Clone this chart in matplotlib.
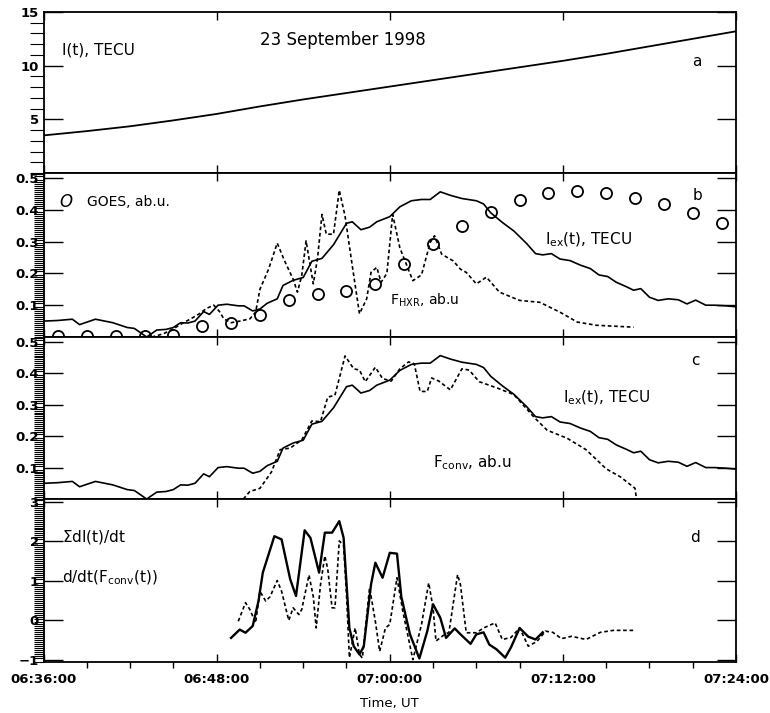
import matplotlib
matplotlib.use("Agg")
import matplotlib.pyplot as plt
from matplotlib.ticker import MultipleLocator, FixedLocator, FuncFormatter, AutoMinorLocator

# time axis: minutes after 06:36:00 UT
T0 = 6 * 60 + 36

# ---- panel a : I(t), TECU
t_tec = [0, 3, 6, 9, 12, 15, 18, 21, 24, 27, 30, 33, 36, 39, 42, 45, 48]
tec = [3.5, 3.9, 4.35, 4.9, 5.5, 6.2, 6.85, 7.45, 8.05, 8.65, 9.25, 9.85, 10.45, 11.1, 11.8, 12.5, 13.2]

# ---- I_ex(t), TECU (panels b and c)
t_iex = [0.0, 1.0, 2.0, 2.5, 3.6, 4.8, 5.8, 6.3, 7.15, 7.85, 8.5, 9.0, 9.5, 10.0, 10.5,
         11.1, 11.5, 12.1, 12.7, 13.5, 13.9, 14.5, 15.0, 15.5, 16.2, 16.6, 17.3, 18.0,
         18.6, 19.3, 20.1, 21.0, 21.4, 22.0, 22.6, 23.1, 24.0, 24.7, 25.5, 26.2, 26.8,
         27.5, 28.2, 29.0, 30.0, 30.5, 31.0, 31.8, 32.6, 33.5, 34.1, 34.6, 35.2, 35.8,
         36.5, 37.2, 37.9, 38.5, 39.1, 39.7, 40.4, 40.9, 41.4, 42.0, 42.6, 43.3, 44.0,
         44.6, 45.2, 45.9, 46.5, 47.3, 48.0]
iex = [0.05, 0.052, 0.056, 0.039, 0.056, 0.045, 0.03, 0.027, 0.0, 0.022, 0.024, 0.03, 0.045,
       0.044, 0.05, 0.08, 0.071, 0.1, 0.103, 0.098, 0.098, 0.082, 0.088, 0.106, 0.12, 0.162,
       0.178, 0.187, 0.238, 0.247, 0.29, 0.357, 0.362, 0.337, 0.345, 0.362, 0.378, 0.409,
       0.428, 0.432, 0.432, 0.456, 0.445, 0.435, 0.428, 0.418, 0.39, 0.36, 0.333, 0.293,
       0.262, 0.258, 0.262, 0.245, 0.24, 0.226, 0.215, 0.195, 0.19, 0.172, 0.158, 0.147,
       0.152, 0.125, 0.115, 0.12, 0.117, 0.104, 0.116, 0.1, 0.1, 0.098, 0.095]

# ---- panel b : F_HXR, ab.u (dotted) and GOES (circles)
t_hxr = [7.5, 8.3, 9.0, 9.7, 10.2, 10.8, 11.3, 11.8, 12.2, 12.5, 13.0, 13.6, 14.3, 14.7,
         15.0, 15.6, 16.2, 16.7, 17.3, 17.6, 17.9, 18.2, 18.5, 18.7, 19.0, 19.3, 19.6,
         20.1, 20.5, 20.9, 21.4, 21.9, 22.4, 22.7, 23.1, 23.4, 23.8, 24.2, 24.7, 25.1,
         25.6, 26.2, 26.8, 27.1, 27.6, 28.4, 28.9, 29.3, 30.0, 30.7, 31.6, 33.0, 34.4,
         35.8, 37.0, 38.3, 40.9]
hxr = [0.0, 0.01, 0.026, 0.045, 0.057, 0.073, 0.09, 0.1, 0.08, 0.057, 0.045, 0.05, 0.057,
       0.078, 0.15, 0.213, 0.295, 0.24, 0.182, 0.141, 0.193, 0.302, 0.22, 0.167, 0.25,
       0.385, 0.323, 0.323, 0.461, 0.38, 0.224, 0.073, 0.12, 0.203, 0.219, 0.172, 0.2,
       0.385, 0.28, 0.234, 0.177, 0.195, 0.297, 0.318, 0.26, 0.239, 0.213, 0.203, 0.167,
       0.188, 0.141, 0.115, 0.109, 0.078, 0.047, 0.037, 0.031]

t_goes = [1, 3, 5, 7, 9, 11, 13, 15, 17, 19, 21, 23, 25, 27, 29, 31, 33, 35, 37, 39, 41, 43, 45, 47]
goes = [0.004, 0.002, 0.002, 0.002, 0.007, 0.034, 0.045, 0.07, 0.115, 0.134, 0.146, 0.167,
        0.229, 0.292, 0.349, 0.393, 0.43, 0.453, 0.458, 0.453, 0.437, 0.417, 0.389, 0.359]

# ---- panel c : F_conv, ab.u (dotted)
t_conv = [13.85, 14.3, 15.0, 15.8, 16.4, 17.1, 17.9, 18.6, 19.2, 19.7, 20.2, 20.9, 21.5,
          21.9, 22.3, 23.0, 23.5, 24.1, 24.7, 25.3, 25.7, 26.1, 26.6, 26.9, 27.4, 28.2,
          29.0, 29.5, 30.2, 31.5, 32.6, 33.5, 34.0, 34.9, 36.3, 37.6, 39.0, 40.0, 41.0, 41.1]
conv = [0.0, 0.024, 0.034, 0.086, 0.157, 0.162, 0.188, 0.248, 0.246, 0.324, 0.33, 0.455,
        0.414, 0.41, 0.373, 0.419, 0.383, 0.375, 0.414, 0.436, 0.43, 0.342, 0.342, 0.385,
        0.375, 0.347, 0.414, 0.41, 0.373, 0.352, 0.332, 0.286, 0.26, 0.219, 0.193, 0.157,
        0.096, 0.07, 0.034, 0.0]

# ---- panel d : sum dI(t)/dt (solid) and d/dt(F_conv(t)) (dotted)
t_dI = [13.0, 13.6, 14.0, 14.5, 14.9, 15.2, 15.6, 16.0, 16.5, 17.1, 17.5, 18.1, 18.5, 19.1,
        19.5, 20.0, 20.5, 20.8, 21.2, 21.5, 21.9, 22.2, 22.7, 23.0, 23.5, 24.0, 24.5, 24.8,
        25.4, 26.05, 26.6, 27.0, 27.5, 27.9, 28.5, 28.9, 29.6, 30.0, 30.5, 30.9, 31.4, 32.0,
        32.4, 33.0, 33.6, 34.1, 34.6]
dI = [-0.44, -0.23, -0.31, -0.14, 0.49, 1.21, 1.67, 2.13, 2.05, 1.04, 0.62, 2.28, 2.09, 1.21,
      2.22, 2.22, 2.51, 2.09, -0.19, -0.65, -0.86, -0.65, 0.91, 1.46, 1.08, 1.71, 1.69, 0.6,
      -0.35, -0.96, -0.27, 0.41, 0.07, -0.44, -0.2, -0.35, -0.59, -0.35, -0.3, -0.61, -0.73,
      -0.94, -0.68, -0.19, -0.41, -0.48, -0.3]

t_dconv = [13.5, 14.0, 14.3, 14.7, 15.0, 15.4, 15.7, 16.2, 16.5, 17.0, 17.3, 17.7, 17.9, 18.4,
           18.7, 18.9, 19.2, 19.5, 19.7, 20.0, 20.2, 20.5, 20.8, 21.0, 21.2, 21.6, 21.9, 22.1,
           22.6, 23.0, 23.3, 23.7, 24.0, 24.5, 24.9, 25.6, 26.2, 26.7, 27.0, 27.2, 27.7, 28.1,
           28.7, 28.9, 29.3, 30.0, 30.5, 31.3, 31.8, 32.4, 33.0, 33.6, 34.2, 34.8, 35.3, 35.9,
           36.6, 37.6, 38.6, 39.5, 40.9]
dconv = [-0.02, 0.45, 0.28, -0.06, 0.74, 0.49, 0.6, 1.01, 0.74, 0.0, 0.32, 0.15, 0.28, 1.15,
         0.6, -0.19, 0.91, 1.63, 1.3, 0.32, 0.32, 2.01, 1.9, 0.66, -0.94, -0.19, -0.86, -0.95,
         0.83, -0.02, -0.78, -0.19, -0.1, 1.08, 0.24, -0.99, -0.1, 0.95, 0.32, -0.52, -0.38,
         -0.3, 1.16, 0.9, -0.31, -0.31, -0.19, -0.06, -0.48, -0.43, -0.19, -0.65, -0.53, -0.27,
         -0.3, -0.46, -0.4, -0.48, -0.3, -0.25, -0.25]

time_ticks = [0, 12, 24, 36, 48]

DOT = (0, (2.2, 1.6))


def tlabel(m, pos):
    m = int(round(m)) + T0
    return "%02d:%02d:00" % (m // 60, m % 60)


fig = plt.figure(figsize=(7.7, 7.13), dpi=100)
L, W = 0.0565, 0.8994
ax_a = fig.add_axes([L, 0.7574, W, 0.2258])
ax_b = fig.add_axes([L, 0.5273, W, 0.2300])
ax_c = fig.add_axes([L, 0.3001, W, 0.2272])
ax_d = fig.add_axes([L, 0.0715, W, 0.2286])

for ax in (ax_a, ax_b, ax_c, ax_d):
    ax.set_xlim(0, 48)
    ax.xaxis.set_major_locator(FixedLocator(time_ticks))
    ax.xaxis.set_minor_locator(MultipleLocator(3))
    ax.tick_params(direction="in", top=True, right=True, labelsize=9.5, width=1.0)
    ax.tick_params(axis="x", which="major", length=6)
    ax.tick_params(axis="x", which="minor", length=4, width=1.0)
    ax.tick_params(axis="y", which="major", length=14)
    ax.tick_params(axis="y", which="minor", length=7, width=0.8)
    for s in ax.spines.values():
        s.set_linewidth(1.3)
    if ax is not ax_d:
        ax.set_xticklabels([])

# panel a
ax_a.plot(t_tec, tec, color="black", lw=1.3)
ax_a.set_ylim(0, 15)
ax_a.set_yticks([5, 10, 15])
ax_a.yaxis.set_minor_locator(MultipleLocator(1))
ax_a.tick_params(axis="y", which="minor", length=10)
ax_a.text(0.027, 0.764, "I(t), TECU", transform=ax_a.transAxes, fontsize=11, va="center")
ax_a.text(0.313, 0.826, "23 September 1998", transform=ax_a.transAxes, fontsize=12, va="center")
ax_a.text(0.943, 0.69, "a", transform=ax_a.transAxes, fontsize=11, va="center", ha="center")

# panel b
ax_b.plot(t_iex, iex, color="black", lw=1.2)
ax_b.plot(t_hxr, hxr, color="black", lw=1.2, ls=DOT)
ax_b.plot(t_goes, goes, ls="none", marker="o", ms=8, mfc="none", mec="black", mew=1.3)
ax_b.set_ylim(0, 0.515)
ax_b.set_yticks([0.1, 0.2, 0.3, 0.4, 0.5])
ax_b.yaxis.set_minor_locator(AutoMinorLocator(16))
ax_b.text(0.022, 0.823, r"$O$", transform=ax_b.transAxes, fontsize=12, va="center")
ax_b.text(0.063, 0.823, "GOES, ab.u.", transform=ax_b.transAxes, fontsize=10, va="center")
ax_b.text(0.945, 0.866, "b", transform=ax_b.transAxes, fontsize=11, va="center", ha="center")
ax_b.text(0.724, 0.59, r"I$_{\rm ex}$(t), TECU", transform=ax_b.transAxes, fontsize=11, va="center")
ax_b.text(0.50, 0.226, r"F$_{\rm HXR}$, ab.u", transform=ax_b.transAxes, fontsize=10, va="center")

# panel c
ax_c.plot(t_iex, iex, color="black", lw=1.2)
ax_c.plot(t_conv, conv, color="black", lw=1.2, ls=DOT)
ax_c.set_ylim(0, 0.515)
ax_c.set_yticks([0.1, 0.2, 0.3, 0.4, 0.5])
ax_c.yaxis.set_minor_locator(AutoMinorLocator(16))
ax_c.text(0.941, 0.858, "c", transform=ax_c.transAxes, fontsize=11, va="center", ha="center")
ax_c.text(0.750, 0.623, r"I$_{\rm ex}$(t), TECU", transform=ax_c.transAxes, fontsize=11, va="center")
ax_c.text(0.5625, 0.222, r"F$_{\rm conv}$, ab.u", transform=ax_c.transAxes, fontsize=11, va="center")

# panel d
ax_d.plot(t_dI, dI, color="black", lw=1.7)
ax_d.plot(t_dconv, dconv, color="black", lw=1.2, ls=DOT)
ax_d.set_ylim(-1.05, 3.07)
ax_d.set_yticks([-1, 0, 1, 2, 3])
ax_d.yaxis.set_minor_locator(AutoMinorLocator(20))
ax_d.xaxis.set_major_formatter(FuncFormatter(tlabel))
ax_d.tick_params(axis="x", pad=8)
ax_d.text(0.027, 0.767, r"$\Sigma$dI(t)/dt", transform=ax_d.transAxes, fontsize=11, va="center")
ax_d.text(0.027, 0.515, r"d/dt(F$_{\rm conv}$(t))", transform=ax_d.transAxes, fontsize=11, va="center")
ax_d.text(0.941, 0.767, "d", transform=ax_d.transAxes, fontsize=11, va="center", ha="center")
ax_d.set_xlabel("Time, UT", fontsize=9.5, labelpad=8)

# tick labels in the original are heavier than the annotations
for ax in (ax_a, ax_b, ax_c, ax_d):
    for lab in ax.get_xticklabels() + ax.get_yticklabels():
        lab.set_fontweight("bold")

fig.savefig("out.png", dpi=100)
